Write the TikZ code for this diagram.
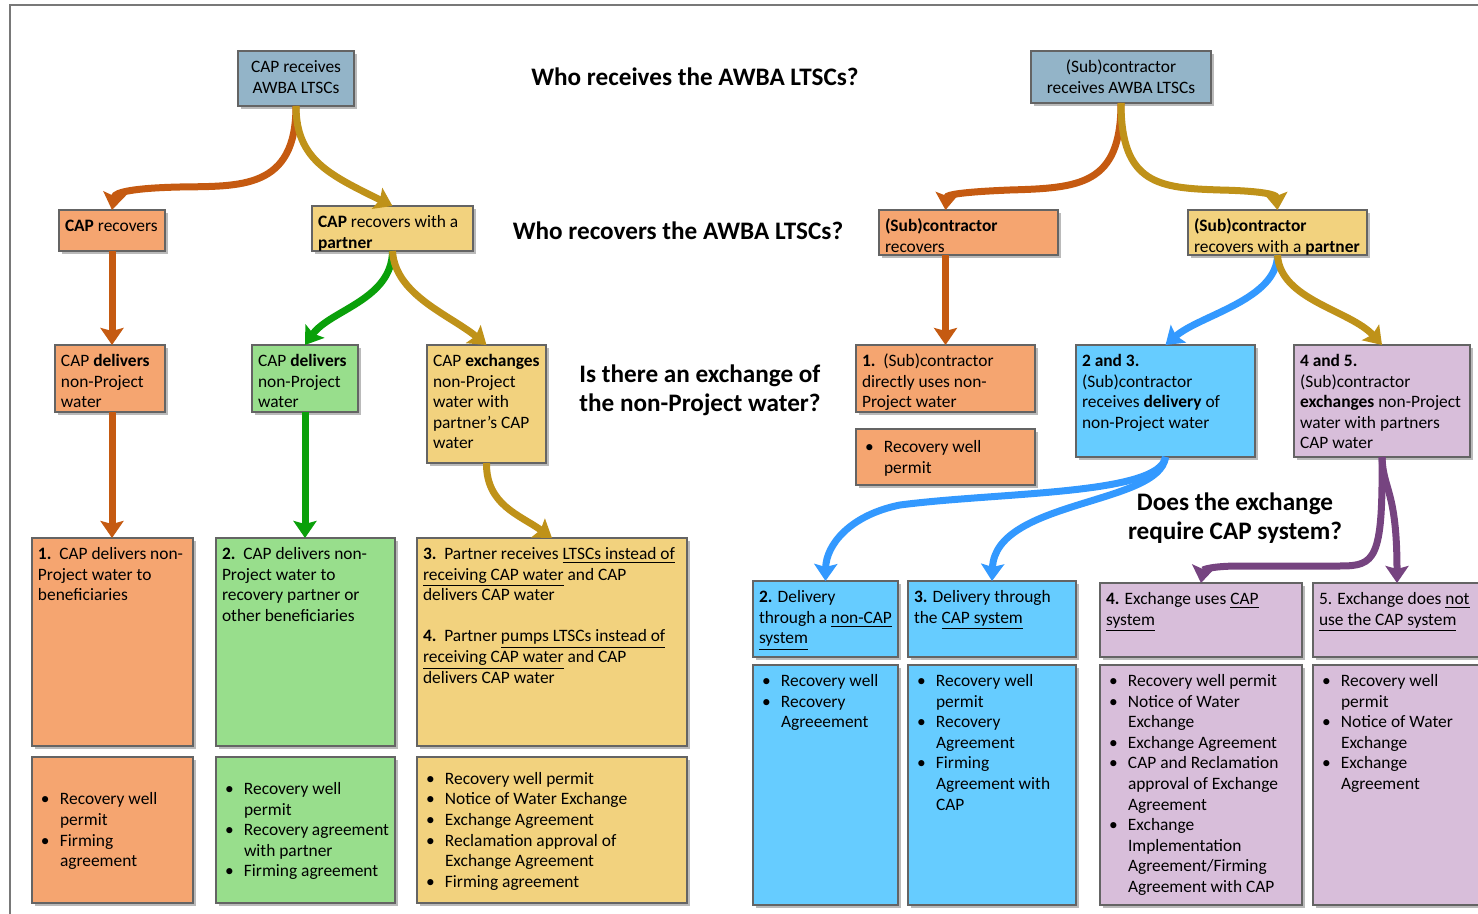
\documentclass[tikz,border=0pt]{standalone}
\usepackage{fontspec}
\setmainfont{Carlito}
\usetikzlibrary{arrows.meta,shadows}
\definecolor{topc}{RGB}{147,180,200}
\definecolor{orc}{RGB}{245,165,112}
\definecolor{yec}{RGB}{242,210,126}
\definecolor{grc}{RGB}{152,222,140}
\definecolor{blc}{RGB}{102,204,255}
\definecolor{puc}{RGB}{216,190,218}
\definecolor{bordc}{RGB}{100,100,100}
\definecolor{aor}{RGB}{197,90,17}
\definecolor{ago}{RGB}{191,146,25}
\definecolor{agr}{RGB}{10,160,10}
\definecolor{abl}{RGB}{51,153,255}
\definecolor{apu}{RGB}{118,68,128}
\definecolor{framec}{RGB}{120,120,120}
\newcommand\nl{\newline}
\newcommand\bi[1]{\noindent\hangindent=11pt\hangafter=1\makebox[11pt][l]{\hspace{1.5pt}\textbullet}#1\par}
\newcommand\bx[9][\raggedright]{%
 \pgfmathsetlengthmacro\bw{(#5-#3)*0.5pt-6pt}%
 \pgfmathsetlengthmacro\bh{(#6-#4)*0.5pt-7pt}%
 \node[boxs, fill=#7, minimum width=(#5-#3)*0.5pt, minimum height=(#6-#4)*0.5pt, anchor=north west] (#2) at (#3,#4) {\parbox[c][\bh][#8]{\bw}{#1\strut #9}};}
\tikzset{
 boxs/.style={draw=bordc, line width=0.6pt, inner xsep=3pt, inner ysep=3.5pt, outer sep=0pt,
   drop shadow={shadow xshift=1.5pt, shadow yshift=-1.5pt, opacity=0.45, fill=black!60},
   font=\fontsize{8.7}{10.3}\selectfont},
 head/.style={font=\fontsize{12.6}{14.5}\selectfont\bfseries, inner sep=0pt},
 arr/.style={line width=3.5pt, line cap=butt, -{Stealth[length=8.5pt,width=11.5pt,inset=1.5pt]}},
}
\begin{document}
\begin{tikzpicture}[x=0.5pt,y=-0.5pt]
\useasboundingbox (0,0) rectangle (1478,914);
\draw[framec, line width=1pt] (10,914) -- (10,5) -- (1478,5);

% headings
\node[head] (q1) at (695,77) {Who receives the AWBA LTSCs?};
\node[head] (q2) at (678,231) {Who recovers the AWBA LTSCs?};
\node[head, align=left] (q3) at (700,390) {Is there an exchange of\\the non-Project water?};
\node[head, align=center] (q4) at (1235,518) {Does the exchange\\require CAP system?};

% level 1
\bx[\centering]{cr}{238}{51}{354}{106}{topc}{t}{CAP receives\\AWBA LTSCs}
\bx[\centering]{sr}{1031}{51}{1211}{103}{topc}{t}{(Sub)contractor\\receives AWBA LTSCs}
% level 2
\bx{crec}{59}{210}{165}{251}{orc}{t}{\textbf{CAP} recovers}
\bx{crp}{312}{206}{473}{251}{yec}{t}{\textbf{CAP} recovers with a\\\textbf{partner}}
\bx{srec}{879}{210}{1058}{255}{orc}{t}{\textbf{(Sub)contractor}\\recovers}
\bx{srp}{1188}{210}{1367}{255}{yec}{t}{\textbf{(Sub)contractor}\\recovers with a \textbf{partner}}
% level 3
\bx{od}{55}{345}{165}{412}{orc}{t}{CAP \textbf{delivers}\\non-Project\\water}
\bx{gd}{252}{345}{358}{412}{grc}{t}{CAP \textbf{delivers}\\non-Project\\water}
\bx{cx}{427}{345}{546}{463}{yec}{t}{CAP \textbf{exchanges}\\non-Project\\water with\\partner’s CAP\\water}
\bx{s1}{856}{345}{1035}{412}{orc}{t}{\textbf{1.}\ \ (Sub)contractor\\directly uses non-\\Project water}
\bx{s1b}{856}{429}{1035}{485}{orc}{c}{\bi{Recovery well\nl permit}}
\bx{b23}{1076}{345}{1255}{457}{blc}{t}{\textbf{2 and 3.}\\(Sub)contractor\\receives \textbf{delivery} of\\non-Project water}
\bx{p45}{1294}{345}{1470}{457}{puc}{t}{\textbf{4 and 5.}\\(Sub)contractor\\\textbf{exchanges} non-Project\\water with partners\\CAP water}
% level 4 left
\bx{o1}{32}{538}{193}{746}{orc}{t}{\textbf{1.}\ \ CAP delivers non-\\Project water to\\beneficiaries}
\bx{o1b}{32}{757}{193}{903}{orc}{c}{\bi{Recovery well\nl permit}\bi{Firming\nl agreement}}
\bx{g2}{216}{538}{395}{746}{grc}{t}{\textbf{2.}\ \ CAP delivers non-\\Project water to\\recovery partner or\\other beneficiaries}
\bx{g2b}{216}{757}{395}{903}{grc}{c}{\bi{Recovery well\nl permit}\bi{Recovery agreement\nl with partner}\bi{Firming agreement}}
\bx{y3}{417}{538}{687}{746}{yec}{t}{\textbf{3.}\ \ Partner receives \underline{LTSCs instead of}\\\underline{receiving CAP water} and CAP\\delivers CAP water\\[10.3pt]\textbf{4.}\ \ Partner \underline{pumps LTSCs instead of}\\\underline{receiving CAP water} and CAP\\delivers CAP water}
\bx{y3b}{417}{757}{687}{903}{yec}{c}{\bi{Recovery well permit}\bi{Notice of Water Exchange}\bi{Exchange Agreement}\bi{Reclamation approval of\nl Exchange Agreement}\bi{Firming agreement}}
% level 4 right
\bx{d2}{753}{581}{898}{657}{blc}{t}{\textbf{2.} Delivery\\through a \underline{non-CAP}\\\underline{system}}
\bx{d3}{908}{581}{1076}{657}{blc}{t}{\textbf{3.} Delivery through\\the \underline{CAP system}}
\bx{d2b}{753}{665}{898}{905}{blc}{t}{\bi{Recovery well}\bi{Recovery\nl Agreeement}}
\bx{d3b}{908}{665}{1076}{905}{blc}{t}{\bi{Recovery well\nl permit}\bi{Recovery\nl Agreement}\bi{Firming\nl Agreement with\nl CAP}}
\bx{e4}{1100}{583}{1302}{657}{puc}{t}{\textbf{4.} Exchange uses \underline{CAP}\\\underline{system}}
\bx{e5}{1313}{583}{1481}{657}{puc}{t}{5. Exchange does \underline{not}\\\underline{use the CAP system}}
\bx{e4b}{1100}{665}{1302}{905}{puc}{t}{\bi{Recovery well permit}\bi{Notice of Water\nl Exchange}\bi{Exchange Agreement}\bi{CAP and Reclamation\nl approval of Exchange\nl Agreement}\bi{Exchange\nl Implementation\nl Agreement/Firming\nl Agreement with CAP}}
\bx{e5b}{1313}{665}{1481}{905}{puc}{t}{\bi{Recovery well\nl permit}\bi{Notice of Water\nl Exchange}\bi{Exchange\nl Agreement}}

% arrows left
\draw[arr, aor] (cr.south) .. controls (296,190) and (240,186) .. (180,187) .. controls (135,188) and (115,192) .. (crec.north);
\draw[arr, ago] (cr.south) .. controls (296,160) and (330,175) .. (crp.north);
\draw[arr, aor] (crec.south) -- (crec.south |- od.north);
\draw[arr, aor] (crec.south |- od.south) -- (crec.south |- o1.north);
\draw[arr, agr] (crp.south) .. controls (392,300) and (330,310) .. (gd.north);
\draw[arr, ago] (crp.south) .. controls (395,295) and (450,315) .. (cx.north);
\draw[arr, agr] (gd.south) -- (gd.south |- g2.north);
\draw[arr, ago] (cx.south) .. controls (486,505) and (520,515) .. (y3.north);
% arrows right
\draw[arr, aor] (sr.south) .. controls (1121,185) and (1080,188) .. (1010,190) .. controls (960,192) and (947,195) .. (s1.north |- srec.north);
\draw[arr, ago] (sr.south) .. controls (1121,185) and (1160,188) .. (1220,190) .. controls (1265,191) and (1276,195) .. (srp.north);
\draw[arr, aor] (s1.north |- srec.south) -- (s1.north);
\draw[arr, abl] (srp.south) .. controls (1277,300) and (1200,315) .. (b23.north);
\draw[arr, ago] (srp.south) .. controls (1280,300) and (1350,310) .. (p45.north);
\draw[arr, abl] (b23.south) .. controls (1160,495) and (1000,492) .. (900,505) .. controls (850,515) and (826,545) .. (d2.north);
\draw[arr, abl] (b23.south) .. controls (1160,505) and (995,500) .. (d3.north);
\draw[arr, apu] (p45.south) .. controls (1383,560) and (1375,566) .. (1340,566) -- (1240,566) .. controls (1210,566) and (1203,570) .. (e4.north);
\draw[arr, apu] (p45.south) .. controls (1383,490) and (1397,490) .. (e5.north);
\end{tikzpicture}
\end{document}
